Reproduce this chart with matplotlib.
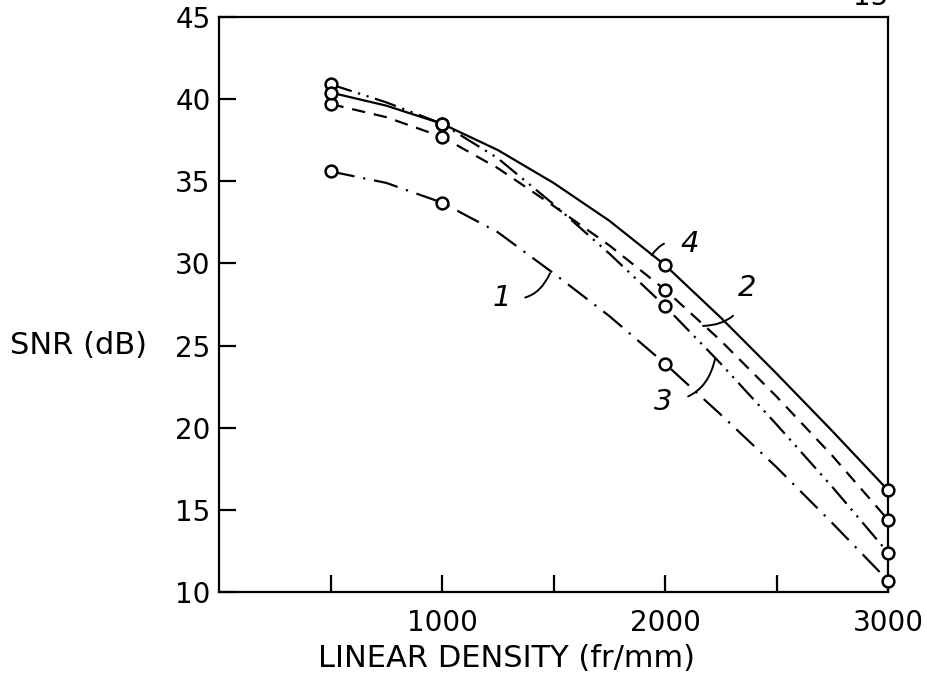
import numpy as np
import matplotlib.pyplot as plt

density = [500, 750, 1000, 1250, 1500, 1750, 2000, 2250, 2500, 2750, 3000]
measured_idx = [0, 2, 6, 10]  # the circled points

snr_1 = [35.6, 34.9, 33.7, 31.9, 29.4, 26.8, 23.9, 20.8, 17.6, 14.2, 10.7]
snr_2 = [39.7, 38.9, 37.7, 35.8, 33.5, 31.1, 28.4, 25.3, 21.9, 18.3, 14.4]
snr_3 = [40.9, 39.8, 38.5, 36.4, 33.6, 30.6, 27.4, 23.9, 20.2, 16.4, 12.4]
snr_4 = [40.4, 39.6, 38.5, 36.9, 34.9, 32.6, 29.9, 26.7, 23.3, 19.8, 16.2]

x_ticks = [500, 1000, 1500, 2000, 2500, 3000]
x_ticklabels = ['', '1000', '', '2000', '', '3000']
y_ticks = [10, 15, 20, 25, 30, 35, 40, 45]

plt.rcParams['font.family'] = ['DejaVu Sans']

fig = plt.figure(figsize=(9.28, 6.76), dpi=100)
ax = fig.add_axes([0.236, 0.124, 0.721, 0.851])

lw = 1.6
styles = {
    '1': (snr_1, (0, (11, 4, 1, 4))),
    '2': (snr_2, (0, (6, 4))),
    '3': (snr_3, (0, (10, 3, 1, 3, 1, 3))),
    '4': (snr_4, '-'),
}
for name, (vals, ls) in styles.items():
    ax.plot(density, vals, color='black', lw=lw, linestyle=ls,
            marker='o', markevery=measured_idx, markersize=8.5,
            markerfacecolor='white', markeredgecolor='black',
            markeredgewidth=1.8, clip_on=False, zorder=3)

ax.set_xlim(0, 3000)
ax.set_ylim(10, 45)
ax.set_xticks(x_ticks)
ax.set_xticklabels(x_ticklabels)
ax.set_yticks(y_ticks)

for s in ax.spines.values():
    s.set_linewidth(1.6)
ax.tick_params(axis='both', direction='in', length=12, width=1.6,
               labelsize=20, top=False, right=False)
ax.tick_params(axis='x', pad=12)
ax.tick_params(axis='y', pad=6)

ax.set_xlabel('LINEAR DENSITY (fr/mm)', fontsize=22, labelpad=2)
ax.xaxis.set_label_coords(0.43, -0.09)
fig.text(0.085, ax.transData.transform((0, 25))[1] / fig.bbox.height,
         'SNR (dB)', fontsize=22, ha='center', va='center')

# curve labels with hand-drawn style leaders
lab = dict(fontsize=21, style='italic', ha='center', va='center')
leader = dict(arrowstyle='-', color='black', lw=1.4)
ax.annotate('1', xy=(1484, 29.4), xytext=(1270, 27.9), **lab,
            arrowprops=dict(leader, connectionstyle='arc3,rad=0.4',
                            shrinkA=8, shrinkB=0))
ax.annotate('2', xy=(2170, 26.2), xytext=(2370, 28.5), **lab,
            arrowprops=dict(leader, connectionstyle='arc3,rad=-0.4',
                            shrinkA=10, shrinkB=0))
ax.annotate('3', xy=(2224, 24.2), xytext=(1990, 21.6), **lab,
            arrowprops=dict(leader, connectionstyle='arc3,rad=0.4',
                            shrinkA=10, shrinkB=0))
ax.annotate('4', xy=(1940, 30.5), xytext=(2110, 31.2), **lab,
            arrowprops=dict(leader, connectionstyle='arc3,rad=0.4',
                            shrinkA=10, shrinkB=0))

fig.text(0.938, 1 - 5 / 676, '15', fontsize=20, ha='center', va='baseline')

fig.savefig('out.png', dpi=100)
